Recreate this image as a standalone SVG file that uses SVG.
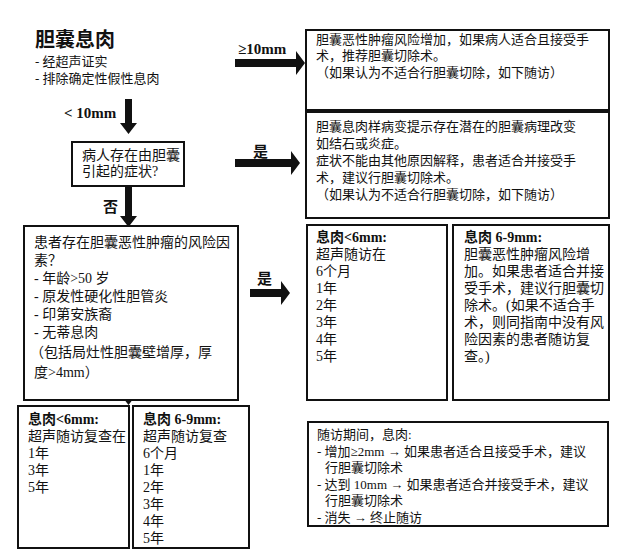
<svg xmlns="http://www.w3.org/2000/svg" width="635" height="555" viewBox="0 0 635 555">
<style>
text{font-family:"Liberation Serif","Noto Sans CJK SC",serif;fill:#111;}
.t{font-size:14px;}
.s{font-size:13px;}
.b{font-weight:bold;}
.l{font-size:15px;font-weight:bold;}
.box{fill:#fff;stroke:#111;stroke-width:2;}
.arr{fill:#111;}
</style>
<rect width="635" height="555" fill="#fff"/>
<g id="title">
<text x="35" y="47" style="font-size:20px;font-weight:bold;font-family:'Noto Sans CJK SC',sans-serif">胆囊息肉</text>
<text x="35" y="66" class="s">- 经超声证实</text>
<text x="35" y="83" class="s">- 排除确定性假性息肉</text>
</g>
<g id="connectors">
<path class="arr" d="M235 59h61v-8l9 12-9 12v-8h-61z"/>
<text x="238" y="54" class="l">≥10mm</text>
<path class="arr" d="M125 99h7v24h5l-8.5 11-8.5-11h5z"/>
<text x="64" y="118" class="l">&lt; 10mm</text>
<path class="arr" d="M235 159h56v-8l9 12-9 12v-8h-56z"/>
<text x="253" y="157" class="l">是</text>
<path class="arr" d="M125 187h7v29h5l-8.5 11-8.5-11h5z"/>
<text x="103" y="212" class="l">否</text>
<path class="arr" d="M250 289h31v-8l9 12-9 12v-8h-31z"/>
<text x="257" y="284" class="l">是</text>
<path class="arr" d="M125 367h7v27h5l-8.5 11-8.5-11h5z"/>
<text x="100" y="390" class="l">否</text>
</g>
<g id="box1">
<rect class="box" x="306" y="30" width="303" height="80"/>
<text x="316" y="44" class="s">胆囊恶性肿瘤风险增加，如果病人适合且接受手</text>
<text x="316" y="60" class="s">术，推荐胆囊切除术。</text>
<text x="316" y="77" class="s">（如果认为不适合行胆囊切除，如下随访）</text>
</g>
<g id="box2">
<rect class="box" x="72" y="142" width="112" height="44"/>
<text x="82" y="160" class="t">病人存在由胆囊</text>
<text x="82" y="176" class="t">引起的症状?</text>
</g>
<g id="box3">
<rect class="box" x="306" y="112" width="303" height="106"/>
<text x="316" y="131" class="s">胆囊息肉样病变提示存在潜在的胆囊病理改变</text>
<text x="316" y="148" class="s">如结石或炎症。</text>
<text x="316" y="165" class="s">症状不能由其他原因解释，患者适合并接受手</text>
<text x="316" y="182" class="s">术，建议行胆囊切除术。</text>
<text x="316" y="199" class="s">（如果认为不适合行胆囊切除，如下随访）</text>
</g>
<g id="box4">
<rect class="box" x="24" y="226" width="214" height="174"/>
<text x="34" y="247" class="t">患者存在胆囊恶性肿瘤的风险因</text>
<text x="34" y="265" class="t">素？</text>
<text x="34" y="283" class="t">- 年龄&gt;50 岁</text>
<text x="34" y="301" class="t">- 原发性硬化性胆管炎</text>
<text x="34" y="319" class="t">- 印第安族裔</text>
<text x="34" y="337" class="t">- 无蒂息肉</text>
<text x="30" y="357" class="t">（包括局灶性胆囊壁增厚，厚</text>
<text x="34" y="377" class="t">度&gt;4mm）</text>
</g>
<g id="box5a">
<rect class="box" x="307" y="225" width="140" height="175"/>
<text x="316" y="242" class="t b">息肉&lt;6mm:</text>
<text x="316" y="259" class="t">超声随访在</text>
<text x="316" y="276" class="t">6个月</text>
<text x="316" y="293" class="t">1年</text>
<text x="316" y="310" class="t">2年</text>
<text x="316" y="327" class="t">3年</text>
<text x="316" y="344" class="t">4年</text>
<text x="316" y="361" class="t">5年</text>
</g>
<g id="box5b">
<rect class="box" x="453" y="225" width="156" height="175"/>
<text x="464" y="242" class="t b">息肉 6-9mm:</text>
<text x="464" y="259" class="t">胆囊恶性肿瘤风险增</text>
<text x="464" y="276" class="t">加。如果患者适合并接</text>
<text x="464" y="293" class="t">受手术，建议行胆囊切</text>
<text x="464" y="310" class="t">除术。(如果不适合手</text>
<text x="464" y="327" class="t">术，则同指南中没有风</text>
<text x="464" y="344" class="t">险因素的患者随访复</text>
<text x="464" y="361" class="t">查。)</text>
</g>
<g id="box6a">
<rect class="box" x="18" y="406" width="111" height="142"/>
<text x="28" y="424" class="t b">息肉&lt;6mm:</text>
<text x="28" y="441" class="t">超声随访复查在</text>
<text x="28" y="458" class="t">1年</text>
<text x="28" y="475" class="t">3年</text>
<text x="28" y="492" class="t">5年</text>
</g>
<g id="box6b">
<rect class="box" x="133" y="406" width="116" height="142"/>
<text x="143" y="424" class="t b">息肉 6-9mm:</text>
<text x="143" y="441" class="t">超声随访复查</text>
<text x="143" y="458" class="t">6个月</text>
<text x="143" y="475" class="t">1年</text>
<text x="143" y="492" class="t">2年</text>
<text x="143" y="509" class="t">3年</text>
<text x="143" y="526" class="t">4年</text>
<text x="143" y="543" class="t">5年</text>
</g>
<g id="box7">
<rect class="box" x="308" y="422" width="300" height="104"/>
<text x="317" y="439" class="s">随访期间，息肉:</text>
<text x="317" y="456" class="s">- 增加≥2mm → 如果患者适合且接受手术，建议</text>
<text x="325" y="472" class="s">行胆囊切除术</text>
<text x="317" y="489" class="s">- 达到 10mm → 如果患者适合并接受手术，建议</text>
<text x="325" y="505" class="s">行胆囊切除术</text>
<text x="317" y="522" class="s">- 消失 → 终止随访</text>
</g>
</svg>
